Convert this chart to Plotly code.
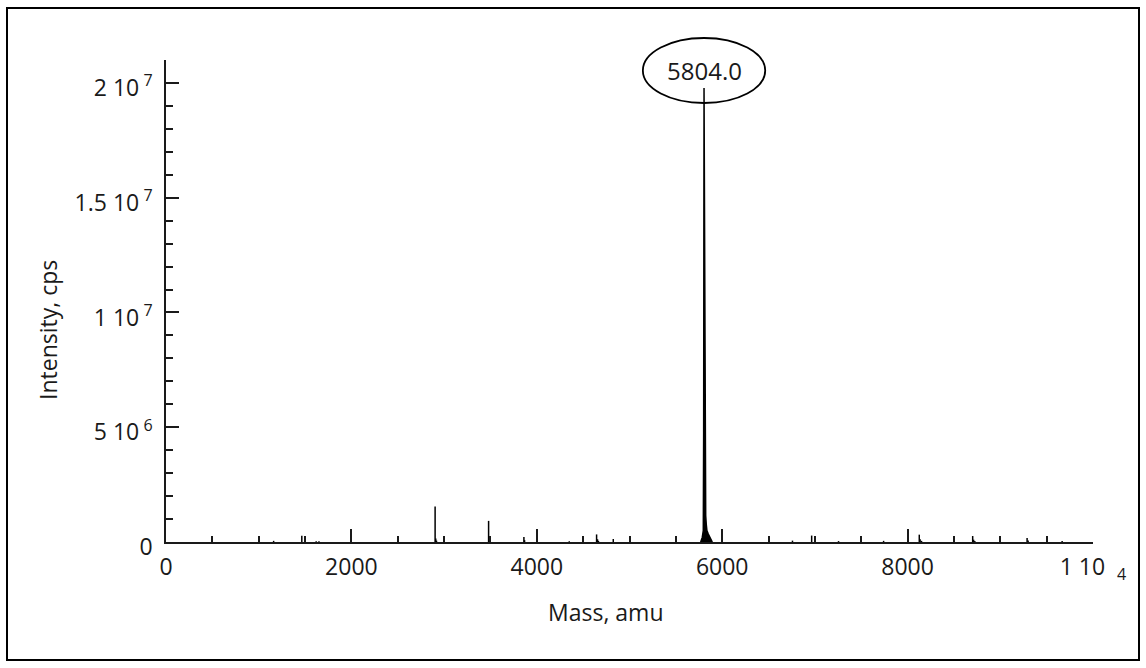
import plotly.graph_objects as go

# Deconvoluted mass spectrum: isolated sticks (centroid mass, intensity in cps)
stick_mass = [1161, 1465, 1620, 1650,
              2903, 2910, 2918, 3480, 3486, 3861, 3868, 4350,
              4645, 4655, 4665, 4825,
              6758, 6965, 7255, 7741,
              8126, 8135, 8150, 8702, 8712, 8725, 9289, 9300, 9667]
stick_intensity = [0.05e6, 0.27e6, 0.03e6, 0.03e6,
                   1.55e6, 0.15e6, 0.06e6, 0.92e6, 0.2e6, 0.22e6, 0.08e6, 0.03e6,
                   0.33e6, 0.12e6, 0.05e6, 0.13e6,
                   0.06e6, 0.28e6, 0.04e6, 0.05e6,
                   0.32e6, 0.12e6, 0.05e6, 0.26e6, 0.1e6, 0.04e6, 0.17e6, 0.06e6, 0.04e6]

# Main component profile around the base peak
cluster_mass = [5768, 5785, 5796, 5800, 5804.0, 5812, 5818, 5822, 5828, 5835, 5850, 5870, 5893]
cluster_intensity = [0, 0.2e6, 0.5e6, 4.8e6, 19.78e6, 8.79e6, 1.6e6, 1.15e6, 0.77e6,
                     0.5e6, 0.35e6, 0.2e6, 0]
base_peak_mass = 5804.0

# Axis ticks
x_tickvals = [0, 2000, 4000, 6000, 8000, 10000]
x_ticktext = ["0", "2000", "4000", "6000", "8000", "1 10  <sub>4</sub>"]
y_tickvals = [0, 5e6, 1e7, 1.5e7, 2e7]
y_ticktext = ["0", "5 10<sup> 6</sup>", "1 10<sup> 7</sup>", "1.5 10<sup> 7</sup>", "2 10<sup> 7</sup>"]

FONT = "Open Sans"
INK = "#1a1a1a"

# Build stick lines (vertical segments from baseline)
sx, sy = [], []
for m, h in zip(stick_mass, stick_intensity):
    sx += [m, m, None]
    sy += [0, h, None]

fig = go.Figure()
fig.add_trace(go.Scatter(x=sx, y=sy, mode="lines",
                         line=dict(color="black", width=1.5),
                         hoverinfo="skip", showlegend=False))
fig.add_trace(go.Scatter(x=cluster_mass, y=cluster_intensity, mode="lines",
                         line=dict(color="black", width=1.5),
                         fill="tozeroy", fillcolor="black",
                         showlegend=False))

L, R, T, B = 166, 53, 60, 126
W, H = 1146, 668
pw, ph = W - L - R, H - T - B

def px_to_paper_x(px):
    return (px - L) / pw

def px_to_paper_y(py):
    return (H - B - py) / ph

fig.update_layout(
    width=W, height=H,
    margin=dict(l=L, r=R, t=T, b=B),
    paper_bgcolor="white", plot_bgcolor="white",
    font=dict(family=FONT, size=23, color=INK),
    showlegend=False,
    xaxis=dict(
        range=[0, 10000], showgrid=False, zeroline=False,
        showline=True, linecolor=INK, linewidth=1.6,
        ticks="inside", ticklen=13, tickwidth=1.6, tickcolor=INK,
        tickvals=x_tickvals, ticktext=x_ticktext,
        ticklabelstandoff=4,
        minor=dict(ticks="inside", dtick=500, ticklen=6, tickwidth=1.6, tickcolor=INK),
    ),
    yaxis=dict(
        range=[0, 2.1e7], showgrid=False, zeroline=False,
        showline=True, linecolor=INK, linewidth=1.6,
        ticks="inside", ticklen=13, tickwidth=1.6, tickcolor=INK,
        tickvals=y_tickvals, ticktext=y_ticktext,
        ticklabelstandoff=7, ticklabelshift=5,
        minor=dict(ticks="inside", dtick=1e6, ticklen=7, tickwidth=1.6, tickcolor=INK),
    ),
    shapes=[
        # outer frame
        dict(type="rect", xref="paper", yref="paper",
             x0=px_to_paper_x(7), x1=px_to_paper_x(1139),
             y0=px_to_paper_y(660), y1=px_to_paper_y(8),
             line=dict(color="black", width=2), layer="below"),
        # ellipse round the base peak label
        dict(type="circle", xref="x", yref="paper",
             x0=base_peak_mass - 660, x1=base_peak_mass + 660,
             y0=px_to_paper_y(103), y1=px_to_paper_y(38),
             line=dict(color="black", width=1.8), fillcolor="rgba(0,0,0,0)"),
    ],
    annotations=[
        dict(text=f"{base_peak_mass:.1f}", x=base_peak_mass, xref="x",
             y=px_to_paper_y(70), yref="paper", showarrow=False,
             xanchor="center", yanchor="middle",
             font=dict(family=FONT, size=24, color=INK)),
        dict(text="Mass, amu", xref="paper", yref="paper",
             x=px_to_paper_x(606), y=px_to_paper_y(612), showarrow=False,
             xanchor="center", yanchor="middle",
             font=dict(family=FONT, size=23, color=INK)),
        dict(text="Intensity, cps", xref="paper", yref="paper",
             x=px_to_paper_x(48), y=px_to_paper_y(330), showarrow=False,
             xanchor="center", yanchor="middle",
             textangle=-90, font=dict(family=FONT, size=23, color=INK)),
    ],
)

fig.write_html("out.html")
